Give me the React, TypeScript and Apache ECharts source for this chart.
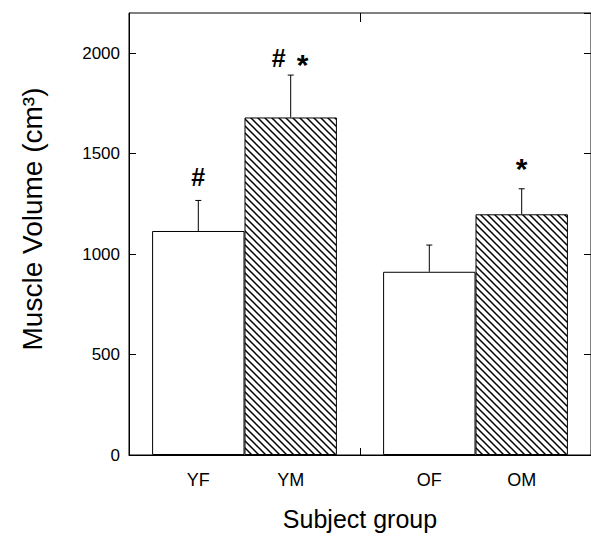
import React, { useEffect, useRef } from "react";
import * as echarts from "echarts";

const categories = ["Young", "Old"];
const femaleMean = [1115, 912];
const femaleErr = [152, 133];
const maleMean = [1680, 1198];
const maleErr = [211, 127];
const femaleLabels = ["YF", "OF"];
const maleLabels = ["YM", "OM"];
const femaleMarks = [["#"], []];
const maleMarks = [["#", "*"], ["*"]];
const femaleMarkValue = [1385, 0];
const maleMarkValue = [1974, 1454];
const yTicks = { min: 0, max: 2200, interval: 500 };

const FONT = "'Liberation Sans', Arial, Helvetica, sans-serif";

function makeHatch(): HTMLCanvasElement {
  const p = 7;
  const c = document.createElement("canvas");
  c.width = p;
  c.height = p;
  const ctx = c.getContext("2d")!;
  ctx.fillStyle = "#fff";
  ctx.fillRect(0, 0, p, p);
  ctx.strokeStyle = "#000";
  ctx.lineWidth = 1.5;
  for (const k of [-p, 0, p]) {
    ctx.beginPath();
    ctx.moveTo(k - 2, -2);
    ctx.lineTo(k + p + 2, p + 2);
    ctx.stroke();
  }
  return c;
}

function errSeries(mean: number[], err: number[], marks: string[][], markVal: number[], side: number) {
  return {
    type: "custom",
    xAxisIndex: 0,
    yAxisIndex: 0,
    z: 5,
    silent: true,
    data: mean.map((m, i) => [i, m, err[i], markVal[i]]),
    renderItem: (params: any, api: any) => {
      const i = params.dataIndex;
      const cat = api.value(0);
      const m = api.value(1);
      const e = api.value(2);
      const mv = api.value(3);
      const base = api.coord([cat, m]);
      const top = api.coord([cat, m + e]);
      const bw = api.size([1, 0])[0];
      const x = base[0] + side * bw * 0.2;
      const children: any[] = [
        { type: "line", shape: { x1: x, y1: base[1], x2: x, y2: top[1] }, style: { stroke: "#000", lineWidth: 1 } },
        { type: "line", shape: { x1: x - 3, y1: top[1], x2: x + 3, y2: top[1] }, style: { stroke: "#000", lineWidth: 1 } },
      ];
      const toks = marks[i];
      if (toks.length) {
        const my = api.coord([cat, mv])[1];
        const gap = 24;
        toks.forEach((t, k) => {
          const tx = x + (k - (toks.length - 1) / 2) * gap;
          const isStar = t === "*";
          children.push({
            type: "text",
            x: tx,
            y: my + (isStar ? 6 : 0),
            style: {
              text: t,
              fill: "#000",
              font: isStar ? `bold 30px ${FONT}` : `bold 25px ${FONT}`,
              align: "center",
              verticalAlign: "middle",
            },
          });
        });
      }
      return { type: "group", children };
    },
  };
}

// tick on the top frame at the boundary between the two category groups
const topTickSeries = {
  type: "custom",
  xAxisIndex: 0,
  yAxisIndex: 0,
  silent: true,
  z: 6,
  data: [[0, 0]],
  renderItem: (params: any, api: any) => {
    const a = api.coord([0, 0]);
    const b = api.coord([1, 0]);
    const xb = Math.round((a[0] + b[0]) / 2 - 0.5) + 0.5;
    const cs = params.coordSys;
    return {
      type: "line",
      shape: { x1: xb, y1: cs.y, x2: xb, y2: cs.y + 9 },
      style: { stroke: "#000", lineWidth: 1 },
    };
  },
};

export default function App() {
  const ref = useRef<HTMLDivElement>(null);
  useEffect(() => {
    if (!ref.current) return;
    const chart = echarts.init(ref.current, undefined, { renderer: "svg" });
    const hatch = makeHatch();
    const labelStyle = { show: true, position: "bottom", distance: 16, fontSize: 18, color: "#000", fontFamily: FONT };
    chart.setOption({
      animation: false,
      backgroundColor: "#fff",
      grid: { left: 129, right: -4, top: 13, bottom: 78, show: true, borderColor: "#000", borderWidth: 1, backgroundColor: "transparent" },
      xAxis: [
        {
          type: "category",
          data: categories,
          position: "bottom",
          axisLine: { show: true, onZero: false, lineStyle: { color: "#000", width: 1 } },
          axisTick: { show: true, inside: true, length: 7, lineStyle: { color: "#000" } },
          axisLabel: { show: false },
          splitLine: { show: false },
          name: "Subject group",
          nameLocation: "middle",
          nameGap: 51,
          nameTextStyle: { fontSize: 25, color: "#000", fontFamily: FONT },
        },
      ],
      yAxis: [
        {
          type: "value",
          ...yTicks,
          position: "left",
          axisLine: { show: true, onZero: false, lineStyle: { color: "#000", width: 1 } },
          axisTick: { show: true, inside: true, length: 7, lineStyle: { color: "#000" } },
          axisLabel: { fontSize: 17, color: "#000", fontFamily: FONT, margin: 9, showMaxLabel: false, formatter: (v: number) => String(v) },
          splitLine: { show: false },
          name: "Muscle Volume (cm³)",
          nameLocation: "middle",
          nameGap: 83,
          nameTextStyle: { fontSize: 28, color: "#000", fontFamily: FONT, padding: [0, 0, 0, 30] },
        },
        {
          type: "value",
          ...yTicks,
          position: "right",
          axisLine: { show: true, onZero: false, lineStyle: { color: "#000", width: 1 } },
          axisTick: { show: true, inside: true, length: 7, lineStyle: { color: "#000" } },
          axisLabel: { show: false },
          splitLine: { show: false },
        },
      ],
      series: [
        {
          type: "bar",
          name: "Female",
          data: femaleMean,
          barGap: "0%",
          barCategoryGap: "20%",
          itemStyle: { color: "#fff", borderColor: "#000", borderWidth: 1 },
          label: { ...labelStyle, formatter: (p: any) => femaleLabels[p.dataIndex] },
        },
        {
          type: "bar",
          name: "Male",
          data: maleMean,
          barGap: "0%",
          barCategoryGap: "20%",
          itemStyle: { color: { image: hatch, repeat: "repeat" }, borderColor: "#000", borderWidth: 1 },
          label: { ...labelStyle, formatter: (p: any) => maleLabels[p.dataIndex] },
        },
        errSeries(femaleMean, femaleErr, femaleMarks, femaleMarkValue, -1),
        errSeries(maleMean, maleErr, maleMarks, maleMarkValue, 1),
        topTickSeries,
      ],
    });
    return () => chart.dispose();
  }, []);
  return <div ref={ref} style={{ position: "fixed", left: 0, top: 0, width: 591, height: 536 }} />;
}
